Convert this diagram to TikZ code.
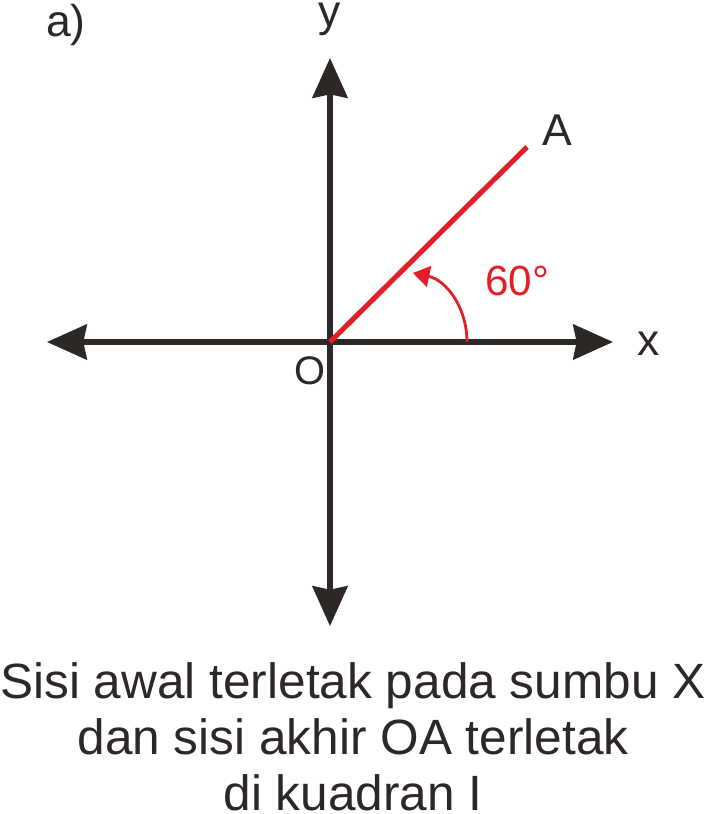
\documentclass[tikz,border=0pt]{standalone}
\usepackage{fontspec}
\setmainfont{Liberation Sans}
\usetikzlibrary{arrows.meta}
\definecolor{axisgray}{HTML}{2D2726}
\definecolor{anglered}{HTML}{E31E26}
\begin{document}
\begin{tikzpicture}[x=0.03cm,y=-0.03cm,
  axis/.style={axisgray,line width=4.3pt,{Stealth[length=34pt,width=30pt,inset=3pt]}-{Stealth[length=34pt,width=30pt,inset=3pt]}},
  lbl/.style={axisgray,font=\fontsize{38}{46}\selectfont}]
\useasboundingbox (0,0) rectangle (710,814);
\coordinate (O) at (330,342);
\coordinate (xl) at (47,342);
\coordinate (xr) at (613,342);
\coordinate (yt) at (330,58);
\coordinate (yb) at (330,626);
\coordinate (A) at (527,147);
\coordinate (p) at (467,342);
\coordinate (q) at (413,273);
\draw[axis] (xl) -- (xr);
\draw[axis] (yb) -- (yt);
\draw[anglered,line width=4.3pt] (O) -- (A);
\draw[anglered,line width=2.4pt,-{Triangle[length=14pt,width=18pt]}] (p) to[out=90,in=-12] (q);
\node[lbl,anchor=base] (xlab) at (649,355) {x};
\node[lbl,anchor=base] (ylab) at (330,27) {y};
\node[lbl,anchor=base] (Alab) at (557,145) {A};
\node[lbl,anchor=base,font=\fontsize{34}{40}\selectfont] (Olab) at (310,384) {O};
\node[lbl,anchor=base,text=anglered,font=\fontsize{36}{42}\selectfont] (ang) at (517,295) {60°};
\node[lbl,anchor=base] (tag) at (66,37) {a)};
\node[axisgray,font=\fontsize{42.3}{47.8}\selectfont,align=center,anchor=base] (cap) at (353,810)
  {Sisi awal terletak pada sumbu X\\dan sisi akhir OA terletak\\di kuadran I};
\end{tikzpicture}
\end{document}
